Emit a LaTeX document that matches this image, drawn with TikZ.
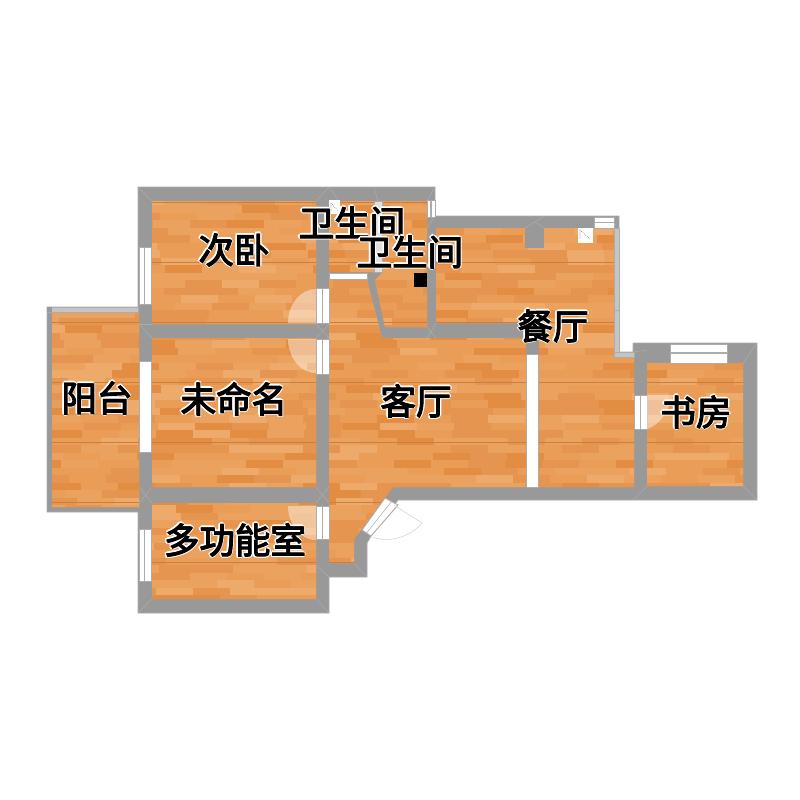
\documentclass[tikz,border=0pt]{standalone}
\usepackage{fontspec}
\usepackage[copies]{contour}
\newfontfamily\cjk[FakeBold=3]{Noto Sans CJK SC}
\newfontfamily\cjkplain{Noto Sans CJK SC}
\contourlength{1.5pt}
\contournumber{8}
\definecolor{wallgray}{HTML}{999999}
\definecolor{walledge}{HTML}{ACACAC}
\definecolor{thinwall}{HTML}{C4C4C4}
\definecolor{woodA}{HTML}{E99D56}
\definecolor{woodB}{HTML}{E38D42}
\definecolor{woodC}{HTML}{EBA25E}
\definecolor{woodD}{HTML}{E69550}
\definecolor{woodE}{HTML}{EEAA6A}
\pgfmathdeclarerandomlist{woodtones}{{woodA}{woodB}{woodC}{woodD}{woodA}{woodC}{woodD}{woodE}}
\tikzset{
  wall/.style={fill=wallgray,draw=walledge,line width=0.6pt},
  mitre/.style={draw=walledge,line width=0.4pt},
  pane/.style={fill=white,draw=walledge,line width=0.7pt},
  paneline/.style={draw=walledge,line width=0.9pt},
  swing/.style={fill=white,fill opacity=0.42},
  thinstrip/.style={fill=thinwall,draw=walledge,line width=0.4pt},
  roomlabel/.style={inner sep=0pt,font=\fontsize{26.6pt}{28pt}\selectfont},
  icon/.style={fill=white,draw=white}
}
\newcommand{\roomtext}[1]{\leavevmode\rlap{\cjkplain\contour{white}{#1}}{\cjk #1}}
\begin{document}
\begin{tikzpicture}[x=0.75pt,y=0.75pt,yscale=-1,xscale=1]
\useasboundingbox (0,0) rectangle (800,800);

%Shape: outer walls
\draw [wall] (138,187) -- (435,187) -- (435,216) -- (619,216) -- (619,352) -- (633,352) -- (633,343) -- (757,343) -- (757,500) -- (398,500) -- (371,536) -- (367,543) -- (367,577) -- (329,577) -- (329,613) -- (138,613) -- (138,512) -- (47,512) -- (47,307) -- (138,307) -- cycle ;

%Shape: floors, one wood texture clipped to all rooms
\begin{scope}
\clip (152,201) -- (316,201) -- (316,324) -- (152,324) -- cycle
      (152,338) -- (316,338) -- (316,487) -- (152,487) -- cycle
      (152,503) -- (316,503) -- (316,599) -- (152,599) -- cycle
      (52,312) -- (139,312) -- (139,507) -- (52,507) -- cycle
      (329,201) -- (427,201) -- (427,327) -- (385,327) -- (375,280) -- (383,272) -- (329,272) -- cycle
      (329,280) -- (367,280) -- (382,338) -- (526,338) -- (526,487) -- (393,487) -- (354,539) -- (354,563) -- (329,563) -- cycle
      (436,228) -- (614,228) -- (614,357) -- (634,357) -- (634,487) -- (539,487) -- (539,338) -- (526,338) -- (526,323) -- (436,323) -- cycle
      (647,363) -- (743,363) -- (743,486) -- (647,486) -- cycle ;
\fill [woodA] (40,190) rectangle (760,610);
\pgfmathsetseed{41}
\foreach \row in {0,...,56} {
  \pgfmathsetmacro{\rowy}{190+7.5*\row}
  \pgfmathsetmacro{\rowx}{30-rnd*37}
  \foreach \col in {0,...,20} {
    \pgfmathrandomitem{\tone}{woodtones}
    \fill [\tone] (\rowx+\col*37,\rowy) rectangle ++(37,7.5);
  }
}
\foreach \row in {0,...,7} {
  \draw [color=woodB!90!black,line width=0.2pt] (40,202+60*\row) -- (760,202+60*\row);
}
\end{scope}

%Shape: pillar and black shaft
\fill [wallgray] (525,228) -- (544,228) -- (544,248) -- (525,248) -- cycle ;
\fill [black] (414,273) rectangle (427,287);

%Shape: light strips
\draw [thinstrip] (47,307) rectangle (138,312);
\fill [wallgray] (47,307) rectangle (52,312);
\draw [thinstrip] (614,228) rectangle (619,310);
\draw [thinstrip] (614,310) rectangle (619,352);
\draw [thinstrip] (614,352) rectangle (634,357);
\draw [thinstrip,fill=black!12] (374,201) rectangle (382,272);

%Shape: corner mitres
\foreach \ax/\ay/\bx/\by in {138/187/152/201,329/187/316/201,329/187/339/201,374/187/378/201,435/187/427/201,435/216/427/228,
  138/613/152/599,329/613/316/599,329/577/316/565,367/577/354/563,757/343/743/363,757/500/743/486,633/500/647/486,
  619/216/614/228,544/216/535/222,535/222/525/228,535/222/544/228,139/324/152/324,152/338/139/324,152/487/139/503,152/503/139/487,
  329/324/316/338,329/338/316/324,329/487/316/503,329/503/316/487,427/327/436/338,436/323/427/338,633/352/647/350}
  \draw [mitre] (\ax,\ay) -- (\bx,\by);

%Shape: windows
\draw [pane] (139,247) rectangle (151,304);
\draw [paneline] (144.5,247) -- (144.5,304);
\draw [pane] (139,529) rectangle (151,581);
\draw [paneline] (144.5,529) -- (144.5,581);
\draw [pane] (427,200) rectangle (435,217);
\draw [paneline] (431,200) -- (431,217);
\draw [pane] (594,217) rectangle (614,228);
\draw [paneline] (594,222.5) -- (614,222.5);
\draw [pane] (670,344) rectangle (727,363);
\draw [paneline] (670,353) -- (727,353);

%Shape: doors
\draw [pane] (316,288) rectangle (329,323);
\draw [paneline,line width=0.4pt] (322,288) -- (322,323);
\draw [pane] (316,339) rectangle (329,374);
\draw [paneline,line width=0.4pt] (322,339) -- (322,374);
\draw [pane] (316,506) rectangle (329,539);
\draw [paneline,line width=0.4pt] (322,506) -- (322,539);
\draw [pane] (634,395) rectangle (647,429);
\draw [paneline,line width=0.4pt] (640,395) -- (640,429);
\draw [pane] (329,273) rectangle (367,279);
\draw [pane] (139,361) rectangle (151,452);
\draw [pane] (526,354) rectangle (538,487);
\draw [pane] (385,498) -- (398,505) -- (371,536) -- (362,530) -- cycle ;
\draw [paneline,line width=0.4pt] (391.5,501.5) -- (366.5,533);

%Shape: door swings
\fill [swing] (316,323) -- (316,289) .. controls (300,289) and (288,305) .. (288,323) -- cycle ;
\fill [swing] (316,339) -- (316,373) .. controls (300,373) and (288,357) .. (288,339) -- cycle ;
\fill [swing] (316,506) -- (288,506) .. controls (288,524) and (300,540) .. (316,540) -- cycle ;
\fill [swing] (647,395) -- (673,395) .. controls (668,412) and (660,425) .. (647,429) -- cycle ;
\draw [color=black!18,line width=0.4pt] (394,505) -- (422,523) .. controls (412,535) and (392,544) .. (372,537) ;

%Shape: fixture icons
\fill [icon] (329,200) rectangle (339,213);
\draw [color=black!70,densely dotted,line width=0.4pt] (331,203) -- (338,211) (331,203) -- (331,211);
\fill [icon] (578,228) rectangle (592,242);
\draw [color=black!70,densely dotted,line width=0.4pt] (580,230) -- (590,239) (580,230) -- (580,239);

% Text Node
\node [roomlabel] (bedroom) at (234,251) {\roomtext{次卧}};
\node [roomlabel] (bathone) at (352,224) {\roomtext{卫生间}};
\node [roomlabel] (bathtwo) at (410,253) {\roomtext{卫生间}};
\node [roomlabel] (dining) at (553,327) {\roomtext{餐厅}};
\node [roomlabel] (balcony) at (97,399) {\roomtext{阳台}};
\node [roomlabel] (unnamed) at (234,400) {\roomtext{未命名}};
\node [roomlabel] (living) at (416,402) {\roomtext{客厅}};
\node [roomlabel] (multi) at (235,541) {\roomtext{多功能室}};
\node [roomlabel] (study) at (696,413) {\roomtext{书房}};

\end{tikzpicture}
\end{document}
